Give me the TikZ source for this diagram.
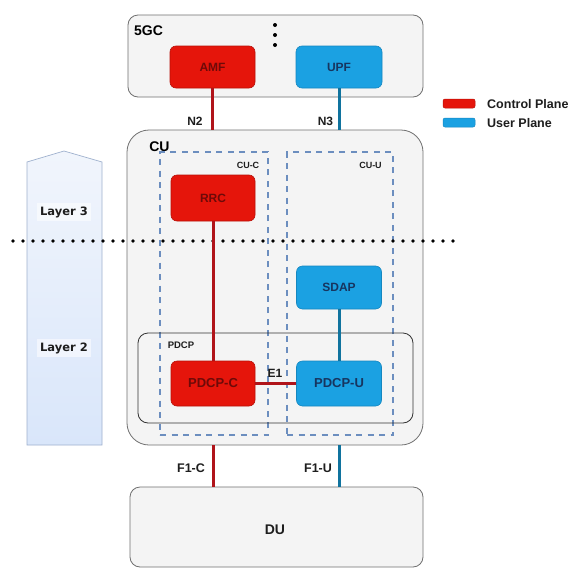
\documentclass[tikz,border=0pt]{standalone}
\usepackage{fontspec}
\setmainfont{Liberation Sans}
\newfontfamily\layerfont{DejaVu Sans}
\usetikzlibrary{calc}

\definecolor{cpred}{HTML}{E5150B}
\definecolor{cpedge}{HTML}{B81008}
\definecolor{cptext}{HTML}{6E0A08}
\definecolor{upblue}{HTML}{1BA1E2}
\definecolor{upedge}{HTML}{1587C0}
\definecolor{uptext}{HTML}{17355F}
\definecolor{cpline}{HTML}{B0141A}
\definecolor{upline}{HTML}{10739E}
\definecolor{grpfill}{HTML}{F4F4F4}
\definecolor{grpedge}{HTML}{707070}
\definecolor{dashblue}{HTML}{6C8EBF}
\definecolor{layertop}{HTML}{F1F5FC}
\definecolor{layerbot}{HTML}{D9E6FA}
\definecolor{layeredge}{HTML}{9FB1CE}
\definecolor{labeltext}{HTML}{1E1E1E}

\tikzset{
  fnbox/.style={rounded corners=6pt, inner sep=0pt, line width=0.6pt,
    font=\bfseries\fontsize{12}{14}\selectfont},
  cpbox/.style={fnbox, fill=cpred, draw=cpedge, text=cptext},
  upbox/.style={fnbox, fill=upblue, draw=upedge, text=uptext},
  grpbox/.style={draw=grpedge, fill=grpfill, line width=0.8pt, inner sep=0pt},
  splitbox/.style={draw=dashblue, line width=1.3pt, dash pattern=on 6pt off 5.5pt, inner sep=0pt},
  cline/.style={draw=cpline, line width=3pt},
  uline/.style={draw=upline, line width=3pt},
  tag/.style={text=labeltext, font=\bfseries\fontsize{12}{14}\selectfont, inner sep=0pt},
  smalltag/.style={text=labeltext, font=\bfseries\fontsize{9}{11}\selectfont, inner sep=0pt},
  layertag/.style={text=labeltext, font=\layerfont\bfseries\fontsize{11.5}{13}\selectfont,
    fill=white, fill opacity=0.55, text opacity=1, inner xsep=3pt, inner ysep=3pt},
  dotline/.style={line width=3.6pt, line cap=round, dash pattern=on 0pt off 10pt},
  legendkey/.style={rounded corners=2pt, minimum width=32pt, minimum height=9pt, inner sep=0pt, line width=0.5pt},
}

\begin{document}
\begin{tikzpicture}[x=1pt, y=-1pt]
  \useasboundingbox (0,0) rectangle (576,568);
  \fill[white] (0,0) rectangle (576,568);

  % layer arrow on the left
  \shade[top color=layertop, bottom color=layerbot, draw=layeredge, line width=0.7pt]
    (27,445) -- (27,162) -- (64,151) -- (102,162) -- (102,445) -- cycle;
  \node[layertag] (l3) at (64,212) {Layer 3};
  \node[layertag] (l2) at (64,348) {Layer 2};

  % core network
  \node[grpbox, rounded corners=10pt, minimum width=295pt, minimum height=82pt] (core) at (275.5,56) {};
  \node[font=\bfseries\fontsize{14}{16}\selectfont, text=black, inner sep=0pt] (coretag) at (148.5,31) {5GC};
  \foreach \yy in {25,35,45} \fill (275,\yy) circle (2pt);
  \node[cpbox, minimum width=85pt, minimum height=42pt] (amf) at (212.5,67) {AMF};
  \node[upbox, minimum width=86pt, minimum height=42pt] (upf) at (339,67) {UPF};

  % central unit
  \node[grpbox, rounded corners=22pt, minimum width=296pt, minimum height=315pt] (cu) at (275,287.5) {};
  \node[font=\bfseries\fontsize{14}{16}\selectfont, text=black, inner sep=0pt] (cutag) at (159.5,147) {CU};
  \node[splitbox, minimum width=108pt, minimum height=283pt] (cuc) at (214,293.5) {};
  \node[splitbox, minimum width=106pt, minimum height=283pt] (cuu) at (340,293.5) {};
  \node[smalltag] (cuctag) at (248,165) {CU-C};
  \node[smalltag] (cuutag) at (370.5,165) {CU-U};

  % PDCP group
  \node[draw=black!80, rounded corners=10pt, line width=0.8pt, minimum width=275pt, minimum height=90pt, inner sep=0pt] (pdcp) at (275.5,378) {};
  \node[smalltag, font=\bfseries\fontsize{9.5}{11}\selectfont] (pdcptag) at (181,345) {PDCP};

  % distributed unit
  \node[grpbox, rounded corners=10pt, minimum width=293pt, minimum height=80pt] (du) at (276.5,527) {};
  \node[font=\bfseries\fontsize{14}{16}\selectfont, text=labeltext, inner sep=0pt] (dutag) at (275,530) {DU};

  % layer divider
  \coordinate (divL) at (13,241);
  \coordinate (divR) at (461,241);
  \draw[dotline] (divL) -- (divR);

  % protocol entities
  \node[cpbox, minimum width=84pt, minimum height=46pt] (rrc) at (213,198) {RRC};
  \node[upbox, minimum width=85pt, minimum height=43pt] (sdap) at (339,287.5) {SDAP};
  \node[cpbox, minimum width=84pt, minimum height=45pt, font=\bfseries\fontsize{13}{15}\selectfont] (pdcpc) at (213,383.5) {PDCP-C};
  \node[upbox, minimum width=85pt, minimum height=45pt, font=\bfseries\fontsize{13}{15}\selectfont] (pdcpu) at (339,383.5) {PDCP-U};

  % interfaces
  \draw[cline] (amf.south) -- (amf.south |- cu.north);
  \draw[uline] (upf.south) -- (upf.south |- cu.north);
  \draw[cline] (rrc.south) -- (pdcpc.north);
  \draw[uline] (sdap.south) -- (pdcpu.north);
  \draw[cline] (pdcpc.east) -- (pdcpu.west);
  \draw[cline] (pdcpc.south |- cu.south) -- (pdcpc.south |- du.north);
  \draw[uline] (pdcpu.south |- cu.south) -- (pdcpu.south |- du.north);

  \node[tag] (n2) at (195,121) {N2};
  \node[tag] (n3) at (325.5,121) {N3};
  \node[tag] (e1) at (275,373) {E1};
  \node[tag, font=\bfseries\fontsize{12.5}{14}\selectfont] (f1c) at (191,468) {F1-C};
  \node[tag, font=\bfseries\fontsize{12.5}{14}\selectfont] (f1u) at (318,468) {F1-U};

  % legend
  \node[legendkey, fill=cpred, draw=cpedge] (keycp) at (459,103.5) {};
  \node[legendkey, fill=upblue, draw=upedge] (keyup) at (459,122.5) {};
  \node[tag, anchor=west, font=\bfseries\fontsize{12.5}{14}\selectfont] (keycptag) at (487,104) {Control Plane};
  \node[tag, anchor=west, font=\bfseries\fontsize{12.5}{14}\selectfont] (keyuptag) at (487,123) {User Plane};
\end{tikzpicture}
\end{document}
